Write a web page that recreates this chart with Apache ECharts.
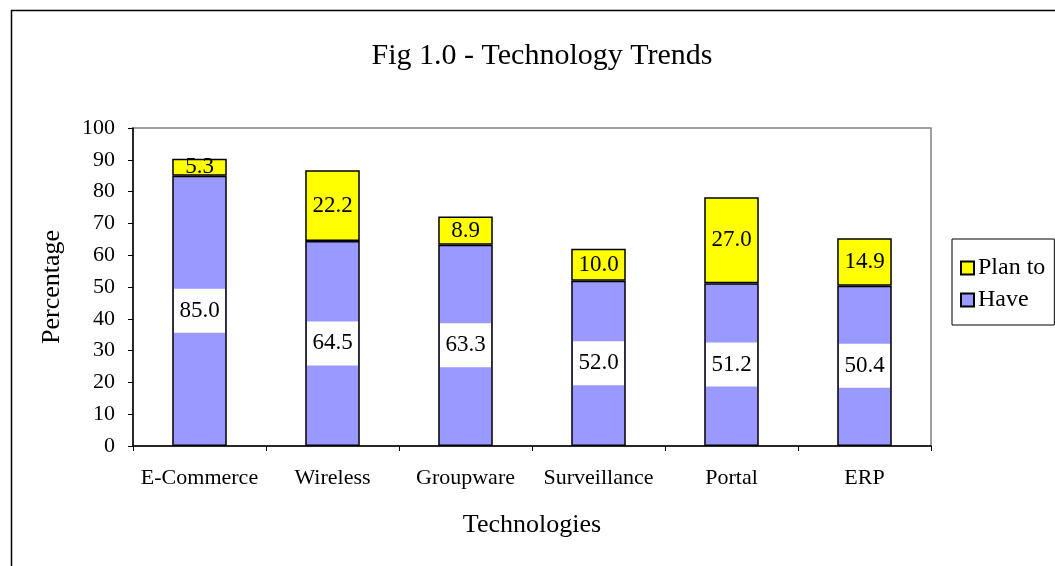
<!DOCTYPE html>
<html>
<head>
<meta charset="utf-8">
<script src="https://cdn.jsdelivr.net/npm/echarts@6/dist/echarts.min.js"></script>
<style>html,body{margin:0;padding:0;background:#fff}#c{width:1055px;height:566px}</style>
</head>
<body>
<div id="c"></div>
<script>
const categories = ['E-Commerce', 'Wireless', 'Groupware', 'Surveillance', 'Portal', 'ERP'];
const haveValues = [85.0, 64.5, 63.3, 52.0, 51.2, 50.4];
const planValues = [5.3, 22.2, 8.9, 10.0, 27.0, 14.9];
const seriesNames = ['Have', 'Plan to'];
const titleText = 'Fig 1.0 - Technology Trends';
const xName = 'Technologies';
const yName = 'Percentage';

const FONT = '"Liberation Serif", "Times New Roman", serif';
const chart = echarts.init(document.getElementById('c'), null, {renderer: 'canvas'});
chart.setOption({
  backgroundColor: '#fff',
  animation: false,
  textStyle: {fontFamily: FONT, color: '#000'},
  graphic: [{
    type: 'rect', left: 9, top: 8,
    shape: {width: 1200, height: 700},
    style: {fill: 'none', stroke: '#000', lineWidth: 1.5},
    z: -1
  }],
  title: {
    text: titleText, left: 537, top: 36, textAlign: 'center',
    textStyle: {fontFamily: FONT, fontSize: 30, fontWeight: 'normal', color: '#000'}
  },
  legend: {
    data: ['Plan to', 'Have'], orient: 'vertical', left: 952, top: 239,
    padding: [17, 9, 13, 8], itemGap: 8,
    borderColor: '#000', borderWidth: 1, icon: 'rect', itemWidth: 13, itemHeight: 13,
    textStyle: {fontFamily: FONT, fontSize: 24, lineHeight: 24, color: '#000', padding: [0, 0, 0, -1]}
  },
  grid: {left: 133, right: 124, top: 128, bottom: 120, show: true, borderColor: '#808080', borderWidth: 1.5, containLabel: false},
  xAxis: {
    type: 'category', data: categories, name: xName, nameLocation: 'middle', nameGap: 66,
    nameTextStyle: {fontFamily: FONT, fontSize: 26, color: '#000'},
    axisLine: {lineStyle: {color: '#000', width: 1.5}},
    axisTick: {show: true, length: 5, alignWithLabel: false, interval: 0, lineStyle: {color: '#000'}},
    axisLabel: {fontFamily: FONT, fontSize: 22, color: '#000', margin: 21, interval: 0}
  },
  yAxis: {
    type: 'value', min: 0, max: 100, interval: 10, name: yName, nameLocation: 'middle', nameGap: 68,
    nameTextStyle: {fontFamily: FONT, fontSize: 26, color: '#000'},
    axisLine: {show: true, lineStyle: {color: '#000', width: 1.5}},
    axisTick: {show: true, length: 5, lineStyle: {color: '#000'}},
    splitLine: {show: false},
    axisLabel: {fontFamily: FONT, fontSize: 22, color: '#000', margin: 18}
  },
  series: [{
    name: seriesNames[0], type: 'bar', stack: 's', data: haveValues, barWidth: '41%',
    itemStyle: {color: '#9999FF', borderColor: '#000', borderWidth: 1.5},
    label: {show: true, position: 'inside', formatter: p => p.value.toFixed(1),
      fontFamily: FONT, fontSize: 23, color: '#000', backgroundColor: '#fff',
      width: 51, height: 44, lineHeight: 44, align: 'center', verticalAlign: 'middle'}
  }, {
    name: seriesNames[1], type: 'bar', stack: 's', data: planValues, barWidth: '41%',
    itemStyle: {color: '#FFFF00', borderColor: '#000', borderWidth: 1.5},
    label: {show: true, position: 'inside', formatter: p => p.value.toFixed(1),
      fontFamily: FONT, fontSize: 23, color: '#000'}
  }]
});
</script>
</body>
</html>
